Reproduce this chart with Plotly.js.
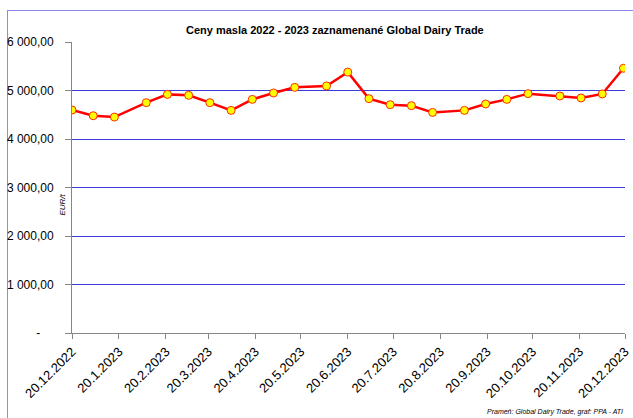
<!DOCTYPE html>
<html>
<head>
<meta charset="utf-8">
<script src="https://cdn.plot.ly/plotly-3.0.1.min.js"></script>
<style>
  html, body { margin: 0; padding: 0; background: #ffffff; }
  #wrap { position: relative; width: 633px; height: 418px; overflow: hidden; }
  #frame { position: absolute; left: 7px; top: 10px; width: 700px; height: 500px;
           border-left: 1px solid #8a8af0; border-top: 1px solid #8a8af0; }
  #chart { position: absolute; left: 0; top: 0; width: 633px; height: 418px; }
</style>
</head>
<body>
<div id="wrap">
  <div id="frame"></div>
  <div id="chart"></div>
</div>
<script>
// Auction dates (Global Dairy Trade events)
const dates = [
  "2022-12-20", "2023-01-03", "2023-01-17", "2023-02-07", "2023-02-21",
  "2023-03-07", "2023-03-21", "2023-04-04", "2023-04-18", "2023-05-02",
  "2023-05-16", "2023-06-06", "2023-06-20", "2023-07-04", "2023-07-18",
  "2023-08-01", "2023-08-15", "2023-09-05", "2023-09-19", "2023-10-03",
  "2023-10-17", "2023-11-07", "2023-11-21", "2023-12-05", "2023-12-19"
];
// Butter price, EUR/t
const prices = [
  4598, 4480, 4453, 4749, 4920,
  4900, 4749, 4590, 4817, 4949,
  5065, 5094, 5379, 4832, 4707,
  4687, 4548, 4590, 4722, 4817,
  4935, 4887, 4846, 4929, 5458
];
// X tick positions and labels
const xTickVals = [
  "2022-12-20", "2023-01-20", "2023-02-20", "2023-03-20", "2023-04-20",
  "2023-05-20", "2023-06-20", "2023-07-20", "2023-08-20", "2023-09-20",
  "2023-10-20", "2023-11-20", "2023-12-20"
];
const xTickText = [
  "20.12.2022", "20.1.2023", "20.2.2023", "20.3.2023", "20.4.2023",
  "20.5.2023", "20.6.2023", "20.7.2023", "20.8.2023", "20.9.2023",
  "20.10.2023", "20.11.2023", "20.12.2023"
];
// Y tick positions and labels
const yTickVals = [0, 1000, 2000, 3000, 4000, 5000, 6000];
const yTickText = ["-\u00a0\u00a0\u00a0\u00a0", "1 000,00", "2 000,00", "3 000,00", "4 000,00", "5 000,00", "6 000,00"];

const titleText = "Ceny masla 2022 - 2023 zaznamenané Global Dairy Trade";
const yUnit = "EUR/t";
const sourceText = "Prameň: Global Dairy Trade, graf: PPA - ATI";

const FONT = "'Liberation Sans', Arial, sans-serif";

const trace = {
  x: dates,
  y: prices,
  type: "scatter",
  mode: "lines+markers",
  line: { color: "#ff0000", width: 2.5 },
  marker: { color: "#ffff00", size: 8, line: { color: "#ff2a00", width: 1 } },
  hoverinfo: "x+y"
};

const layout = {
  width: 633,
  height: 418,
  margin: { l: 72, r: 8, t: 42, b: 85 },
  paper_bgcolor: "rgba(0,0,0,0)",
  plot_bgcolor: "rgba(0,0,0,0)",
  showlegend: false,
  title: {
    text: "<b>" + titleText + "</b>",
    font: { family: FONT, size: 11, color: "#000000" },
    x: 0.529, xanchor: "center", xref: "container",
    y: 0.928, yanchor: "middle", yref: "container"
  },
  xaxis: {
    type: "date",
    range: ["2022-12-20", "2023-12-20"],
    tickmode: "array",
    tickvals: xTickVals,
    ticktext: xTickText,
    tickangle: -45,
    ticks: "outside",
    ticklen: 5,
    tickcolor: "#868686",
    showline: true,
    linecolor: "#868686",
    linewidth: 1,
    showgrid: false,
    zeroline: false,
    tickfont: { family: FONT, size: 13, color: "#000000" }
  },
  yaxis: {
    range: [0, 6000],
    tickmode: "array",
    tickvals: yTickVals,
    ticktext: yTickText,
    ticks: "outside",
    ticklen: 6,
    tickcolor: "#868686",
    showline: true,
    linecolor: "#868686",
    linewidth: 1,
    showgrid: true,
    gridcolor: "#3c3cdc",
    gridwidth: 1,
    zeroline: false,
    ticklabelstandoff: 9,
    tickfont: { family: FONT, size: 12, color: "#000000" }
  },
  annotations: [
    {
      text: "<i>" + yUnit + "</i>",
      xref: "paper", yref: "paper",
      x: -0.017, y: 0.44,
      xanchor: "center", yanchor: "middle",
      textangle: -90,
      showarrow: false,
      font: { family: FONT, size: 8, color: "#000000" }
    },
    {
      text: "<i>" + sourceText + "</i>",
      xref: "paper", yref: "paper",
      x: 1.0, y: -0.25,
      xanchor: "right", yanchor: "top",
      showarrow: false,
      font: { family: FONT, size: 7, color: "#000000" }
    }
  ]
};

Plotly.newPlot("chart", [trace], layout, { displayModeBar: false, staticPlot: true });
</script>
</body>
</html>
